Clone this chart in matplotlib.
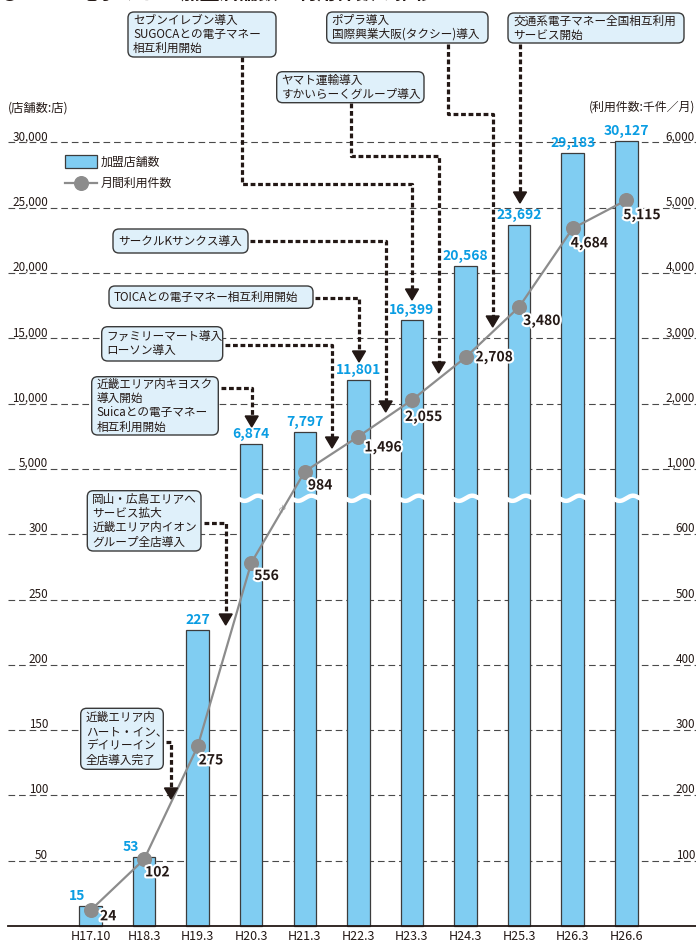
import numpy as np
import matplotlib
matplotlib.use("Agg")
import matplotlib.pyplot as plt
import matplotlib.transforms as mtransforms
import matplotlib.patheffects as pe
from matplotlib.patches import FancyBboxPatch, Polygon, Rectangle
from matplotlib.lines import Line2D

plt.rcParams['font.family'] = ['Noto Sans CJK JP', 'DejaVu Sans']

# --- data ---
periods = ["H17.10", "H18.3", "H19.3", "H20.3", "H21.3", "H22.3",
           "H23.3", "H24.3", "H25.3", "H26.3", "H26.6"]
stores = [15, 53, 227, 6874, 7797, 11801, 16399, 20568, 23692, 29183, 30127]
usage = [24, 102, 275, 556, 984, 1496, 2055, 2708, 3480, 4684, 5115]

store_ticks = [50, 100, 150, 200, 250, 300, 5000, 10000, 15000, 20000, 25000, 30000]
usage_ticks = [100, 200, 300, 400, 500, 600, 1000, 2000, 3000, 4000, 5000, 6000]

events = [
    "セブンイレブン導入\nSUGOCAとの電子マネー\n相互利用開始",
    "ポプラ導入\n国際興業大阪(タクシー)導入",
    "交通系電子マネー全国相互利用\nサービス開始",
    "ヤマト運輸導入\nすかいらーくグループ導入",
    "サークルKサンクス導入",
    "TOICAとの電子マネー相互利用開始",
    "ファミリーマート導入\nローソン導入",
    "近畿エリア内キヨスク\n導入開始\nSuicaとの電子マネー\n相互利用開始",
    "岡山・広島エリアへ\nサービス拡大\n近畿エリア内イオン\nグループ全店導入",
    "近畿エリア内\nハート・イン、\nデイリーイン\n全店導入完了",
]

# --- colours / layout ---
W, H = 696, 943
BAR = "#80cdf2"
BLUE = "#0a9de3"
DARK = "#231815"
GRAY = "#8c8c8c"
BOXFACE = "#dff0fa"
x0px, dxpx = 90.5, 53.58      # pixel of first category, spacing
base_px, unit_px = 926, 65.3   # baseline pixel, one grid step


# broken axis: 0-300 (lower), 5000-30000 (upper) for stores
def fwd_store(s):
    s = np.asarray(s, float)
    return np.where(s <= 300, s / 50,
                    np.where(s < 5000, 6 + (s - 300) / 4700, 7 + (s - 5000) / 5000))


def inv_store(u):
    u = np.asarray(u, float)
    return np.where(u <= 6, u * 50,
                    np.where(u < 7, 300 + (u - 6) * 4700, 5000 + (u - 7) * 5000))


def fwd_use(r):
    r = np.asarray(r, float)
    return np.where(r <= 600, r / 100,
                    np.where(r < 1000, 6 + (r - 600) / 400, 7 + (r - 1000) / 1000))


def inv_use(u):
    u = np.asarray(u, float)
    return np.where(u <= 6, u * 100,
                    np.where(u < 7, 600 + (u - 6) * 400, 1000 + (u - 7) * 1000))


fig = plt.figure(figsize=(W / 100, H / 100), dpi=100)
ax = fig.add_axes([0, 0, 1, 1])
ax.set_yscale('function', functions=(fwd_store, inv_store))
u_lo, u_hi = -(H - base_px) / unit_px, base_px / unit_px
ax.set_ylim(float(inv_store(u_lo)), float(inv_store(u_hi)))
ax.set_xlim(-x0px / dxpx, (W - x0px) / dxpx)
ax.axis('off')

ax2 = ax.twinx()
ax2.set_yscale('function', functions=(fwd_use, inv_use))
ax2.set_ylim(float(inv_use(u_lo)), float(inv_use(u_hi)))
ax2.axis('off')

# pixel transform for annotations (origin top-left)
T = mtransforms.Affine2D().scale(1 / W, -1 / H).translate(0, 1) + fig.transFigure

x = np.arange(len(periods))

# grid lines + tick labels
for s, r in zip(store_ticks, usage_ticks):
    ax.axhline(s, xmin=8 / W, xmax=1, color="#4a4a4a", lw=0.8,
               ls=(0, (6, 3.5)), zorder=1)
    ax.annotate(f"{s:,}", xy=(48 / W, s), xycoords=ax.get_yaxis_transform(),
                xytext=(0, 2), textcoords='offset pixels', ha='right',
                va='baseline', fontsize=8.4, color=DARK)
    ax.annotate(f"{r:,}", xy=(695 / W, s), xycoords=ax.get_yaxis_transform(),
                xytext=(0, 2), textcoords='offset pixels', ha='right',
                va='baseline', fontsize=8.4, color=DARK)

ax.axhline(0, xmin=8 / W, xmax=1, color=DARK, lw=1.3, zorder=4)

# bars
ax.bar(x, stores, width=0.42, color=BAR, edgecolor="#3c3c3c", lw=0.9, zorder=2)
for i, s in enumerate(stores):
    shift = -13 if s < 100 else 0
    ax.annotate(f"{s:,}", xy=(i, s), xytext=(shift, 3), textcoords='offset pixels',
                ha='center', va='bottom', fontsize=10, fontweight='bold',
                color=BLUE, zorder=6)

# white wave across the axis break
u_break = 6.55
xs = np.linspace(ax.get_xlim()[0], ax.get_xlim()[1], 1500)
wave = u_break + (2.6 / unit_px) * np.sin(2 * np.pi * xs / 0.5)
ax.plot(xs, inv_store(wave), color='white', lw=3.2, zorder=3)

# usage line
ax2.plot(x, usage, color=GRAY, lw=1.6, marker='o', ms=9.8, mfc=GRAY, mec=GRAY, zorder=5)
lab_off = [(9.5, 6), (1, 13), (1, 14), (3, 13), (3, 14), (6, 11),
           (-7, 17), (10, 0), (4, 14), (-2, 15), (-3, 15)]
for i, (r, (ox, oy)) in enumerate(zip(usage, lab_off)):
    ax2.annotate(f"{r:,}", xy=(i, r), xytext=(ox, -oy), textcoords='offset pixels',
                 ha='left', va='center', fontsize=10, fontweight='bold', color=DARK,
                 path_effects=[pe.withStroke(linewidth=3, foreground='white')], zorder=6)
fig.text(283, 508, "≈", transform=T, fontsize=7, color=GRAY, rotation=55,
         ha='center', va='center')

# x labels
for i, p in enumerate(periods):
    ax.text(i, 1 - 937 / H, p, transform=ax.get_xaxis_transform(), ha='center',
            va='center', fontsize=9, color=DARK)

# unit labels
fig.text(8, 108, "(店舗数:店)", transform=T, ha='left', va='center', fontsize=8.8, color=DARK)
fig.text(695, 107, "(利用件数:千件／月)", transform=T, ha='right', va='center',
         fontsize=8.6, color=DARK)

# title (only its lower edge shows, as in the source)
fig.text(0, -1.5, "●ICOCA電子マネー 加盟店舗数・利用件数の推移", transform=T,
         ha='left', va='baseline', fontsize=14, fontweight='bold', color=DARK)

# legend
fig.add_artist(Rectangle((65, 155), 32, 13, transform=T, facecolor=BAR,
                         edgecolor="#3c3c3c", lw=0.9))
fig.add_artist(Line2D([65, 97], [183, 183], transform=T, color=GRAY, lw=1.6))
fig.add_artist(Line2D([81], [183], transform=T, color=GRAY, marker='o', ms=9.8))
fig.text(101, 162, "加盟店舗数", transform=T, ha='left', va='center', fontsize=8.6, color=DARK)
fig.text(101, 183, "月間利用件数", transform=T, ha='left', va='center', fontsize=8.6, color=DARK)

# event boxes (pixel boxes) and dotted arrows
boxes = [(128, 12, 276, 57), (326.7, 12, 488, 43), (508, 13, 684, 43),
         (276.7, 71.7, 424, 102.7), (113, 229, 248, 253), (109, 286, 313, 308.3),
         (101.7, 326.7, 222.7, 361), (91.7, 376.7, 218.3, 435),
         (87.3, 490.7, 201, 551), (80.7, 708.3, 163.3, 769.3)]
arrows = [
    ([(242, 57), (242, 184), (412, 184), (412, 289)], 300),
    ([(447.7, 44), (447.7, 114), (492.7, 114), (492.7, 316)], 327),
    ([(520, 44), (520, 192)], 203),
    ([(350.7, 103), (350.7, 155.7), (438.7, 155.7), (438.7, 362)], 373),
    ([(250, 241), (385.7, 241), (385.7, 401)], 412),
    ([(315, 297.7), (359, 297.7), (359, 351)], 362),
    ([(225, 345), (332, 345), (332, 437)], 448),
    ([(221, 388.3), (251.7, 388.3), (251.7, 416)], 427),
    ([(204, 523.3), (225.7, 523.3), (225.7, 614)], 625),
    ([(166, 741.7), (171, 741.7), (171, 788)], 799),
]
for pts, tip in arrows:
    px, py = zip(*pts)
    fig.add_artist(Line2D(px, py, transform=T, color=DARK, lw=2.3,
                          ls=(0, (1.5, 0.85)), solid_capstyle='butt',
                          dash_capstyle='butt', zorder=7))
    xt = px[-1]
    fig.add_artist(Polygon([(xt - 6.5, tip - 11), (xt + 6.5, tip - 11), (xt, tip)],
                           closed=True, transform=T, color=DARK, zorder=7))

for (bx0, by0, bx1, by1), txt in zip(boxes, events):
    fig.add_artist(FancyBboxPatch((bx0, by0), bx1 - bx0, by1 - by0,
                                  boxstyle="round,pad=0,rounding_size=6",
                                  transform=T, facecolor=BOXFACE, edgecolor="#3a3a3a",
                                  lw=1.0, zorder=8))
    fig.text(bx0 + 5, (by0 + by1) / 2, txt, transform=T, ha='left', va='center',
             fontsize=8.4, color=DARK, linespacing=1.1, zorder=9)

fig.savefig("out.png", dpi=100)
